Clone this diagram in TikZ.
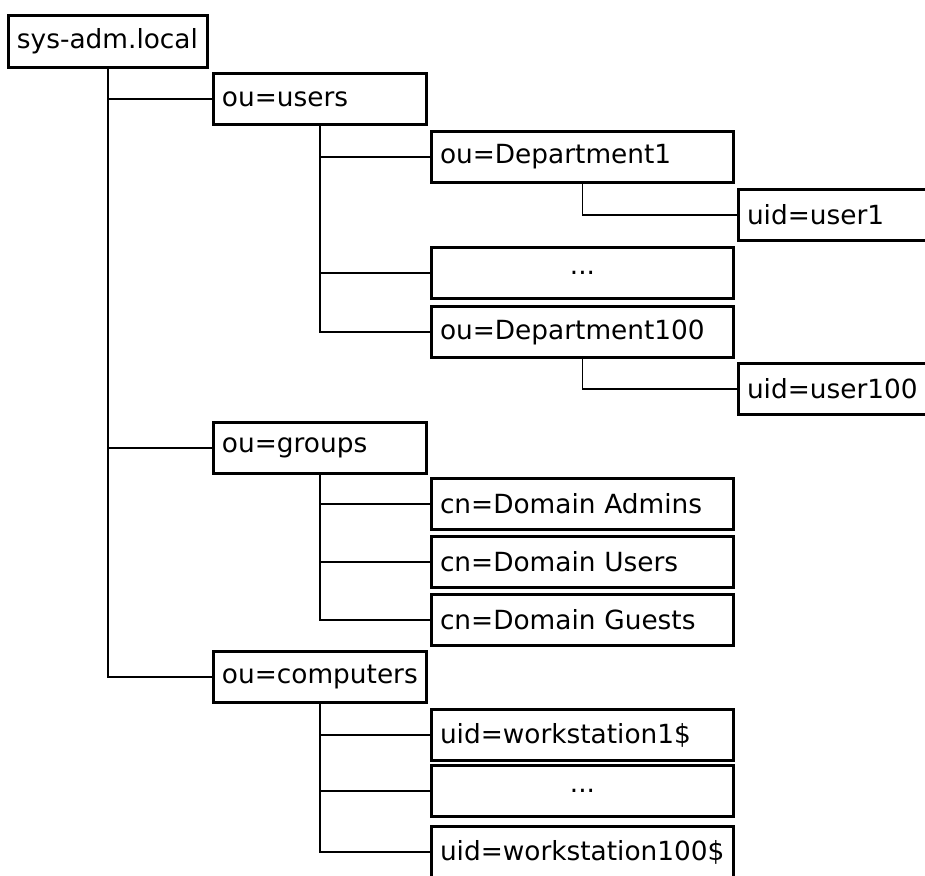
\documentclass[tikz,border=0pt]{standalone}
\usepackage{fontspec}
\setmainfont{DejaVu Sans}

\begin{document}
\begin{tikzpicture}[x=0.2mm, y=-0.2mm,
  entry/.style={rectangle, draw, line width=1.7pt, anchor=north west, minimum height=10.2mm, inner xsep=1.7mm, inner ysep=0pt, align=left, font=\fontsize{15}{17}\selectfont},
  rootbox/.style={entry, text width=36.4mm, minimum height=10.4mm},
  ou/.style={entry, text width=39.2mm},
  leaf/.style={entry, text width=57mm},
  gap/.style={leaf, align=center},
  uid/.style={entry, text width=36.6mm},
  link/.style={line width=1pt, draw=black}
]
\useasboundingbox (0,0) rectangle (925,875);
\clip (0,0) rectangle (925,875);

\node[rootbox] (root) at (7,14) {sys-adm.local};

\node[ou] (users) at (212,72) {ou=users};
\node[leaf] (dept1) at (430,130) {ou=Department1};
\node[uid] (user1) at (737,188) {uid=user1};
\node[gap] (deptdots) at (430,246) {...};
\node[leaf] (dept100) at (430,305) {ou=Department100};
\node[uid] (user100) at (737,362) {uid=user100};

\node[ou] (groups) at (212,421) {ou=groups};
\node[leaf] (admins) at (430,477) {cn=Domain Admins};
\node[leaf] (dusers) at (430,535) {cn=Domain Users};
\node[leaf] (guests) at (430,593) {cn=Domain Guests};

\node[ou] (computers) at (212,650) {ou=computers};
\node[leaf] (ws1) at (430,708) {uid=workstation1\$};
\node[gap] (wsdots) at (430,764) {...};
\node[leaf] (ws100) at (430,825) {uid=workstation100\$};

\draw[link] (root.south) |- (users.west);
\draw[link] (root.south) |- (groups.west);
\draw[link] (root.south) |- (computers.west);

\draw[link] (users.south) |- (dept1.west);
\draw[link] (users.south) |- (deptdots.west);
\draw[link] (users.south) |- (dept100.west);
\draw[link] (dept1.south) |- (user1.west);
\draw[link] (dept100.south) |- (user100.west);

\draw[link] (groups.south) |- (admins.west);
\draw[link] (groups.south) |- (dusers.west);
\draw[link] (groups.south) |- (guests.west);

\draw[link] (computers.south) |- (ws1.west);
\draw[link] (computers.south) |- (wsdots.west);
\draw[link] (computers.south) |- (ws100.west);
\end{tikzpicture}
\end{document}
